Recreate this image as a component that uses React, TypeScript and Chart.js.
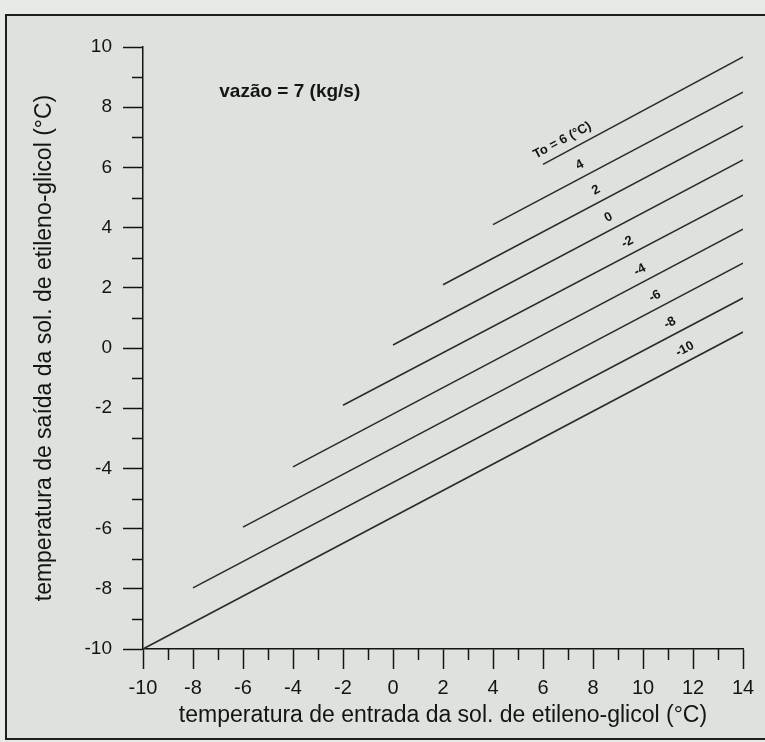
import React, { useEffect, useRef } from "react";
import { Chart, registerables } from "chart.js";

Chart.register(...registerables);

// Curve parameter To (°C); each curve starts at inlet = To
const curveTo = [6, 4, 2, 0, -2, -4, -6, -8, -10];
const startOutlet = [6.1, 4.1, 2.1, 0.1, -1.9, -3.95, -5.95, -7.97, -10];
const endInlet = 14;
const endOutlet = [9.67, 8.5, 7.38, 6.25, 5.08, 3.95, 2.82, 1.66, 0.53];
const curveLabels = ["To = 6 (°C)", "4", "2", "0", "-2", "-4", "-6", "-8", "-10"];
const labelInlet = [7.0, 7.7, 8.35, 8.85, 9.6, 10.1, 10.7, 11.3, 11.9];

const xMin = -10;
const xMax = 14;
const yMin = -10;
const yMax = 10;
const xTitle = "temperatura de entrada da sol. de etileno-glicol (°C)";
const yTitle = "temperatura de saída da sol. de etileno-glicol (°C)";
const noteText = "vazão = 7 (kg/s)";
const notePos = { x: -6.95, y: 8.5 };

const FONT = "'Liberation Sans', Arial, Helvetica, sans-serif";
const INK = "#141414";

const decorPlugin = {
  id: "decor",
  afterDatasetsDraw(chart: any) {
    const { ctx, chartArea, scales } = chart;
    const xs = scales.x;
    const ys = scales.y;
    ctx.save();
    // minor ticks
    ctx.strokeStyle = INK;
    ctx.lineWidth = 1.5;
    for (let v = xMin; v <= xMax; v += 1) {
      if (Math.abs(v % 2) === 1) {
        const px = Math.round(xs.getPixelForValue(v)) + 0.5;
        ctx.beginPath();
        ctx.moveTo(px, chartArea.bottom);
        ctx.lineTo(px, chartArea.bottom + 11);
        ctx.stroke();
      }
    }
    for (let v = yMin; v <= yMax; v += 1) {
      if (Math.abs(v % 2) === 1) {
        const py = Math.round(ys.getPixelForValue(v)) + 0.5;
        ctx.beginPath();
        ctx.moveTo(chartArea.left, py);
        ctx.lineTo(chartArea.left - 11, py);
        ctx.stroke();
      }
    }
    // curve labels
    ctx.fillStyle = INK;
    ctx.font = `bold 13px ${FONT}`;
    ctx.textAlign = "center";
    ctx.textBaseline = "middle";
    curveTo.forEach((to, i) => {
      const xv = labelInlet[i];
      const yv =
        startOutlet[i] +
        ((endOutlet[i] - startOutlet[i]) * (xv - to)) / (endInlet - to);
      const px = xs.getPixelForValue(xv);
      const py = ys.getPixelForValue(yv);
      const ang = Math.atan2(
        ys.getPixelForValue(endOutlet[i]) - ys.getPixelForValue(startOutlet[i]),
        xs.getPixelForValue(endInlet) - xs.getPixelForValue(to)
      );
      ctx.save();
      ctx.translate(px, py);
      ctx.rotate(ang);
      ctx.fillText(curveLabels[i], 0, -12);
      ctx.restore();
    });
    // note
    ctx.font = `bold 19px ${FONT}`;
    ctx.textAlign = "left";
    ctx.fillText(noteText, xs.getPixelForValue(notePos.x), ys.getPixelForValue(notePos.y));
    ctx.restore();
  },
};

export default function App() {
  const ref = useRef<HTMLCanvasElement | null>(null);

  useEffect(() => {
    if (!ref.current) return;
    const datasets = curveTo.map((to, i) => ({
      label: curveLabels[i],
      data: [
        { x: to, y: startOutlet[i] },
        { x: endInlet, y: endOutlet[i] },
      ],
      borderColor: "#2b2b2b",
      borderWidth: 1.6,
      pointRadius: 0,
      fill: false,
      tension: 0,
    }));
    const chart = new Chart(ref.current, {
      type: "line",
      data: { datasets },
      plugins: [decorPlugin],
      options: {
        animation: false,
        responsive: true,
        maintainAspectRatio: false,
        layout: { padding: { left: 0, top: 47, right: 22, bottom: 0 } },
        plugins: {
          legend: { display: false },
          tooltip: { enabled: false },
        },
        scales: {
          x: {
            type: "linear",
            min: xMin,
            max: xMax,
            afterFit: (s: any) => {
              s.height = 93;
            },
            border: { display: true, color: INK, width: 1.5 },
            grid: {
              display: true,
              drawOnChartArea: false,
              tickLength: 20,
              tickWidth: 1.5,
              tickColor: (c: any) =>
                c.tick && Math.abs(c.tick.value % 2) === 0 ? INK : "rgba(0,0,0,0)",
            },
            ticks: {
              stepSize: 1,
              autoSkip: false,
              maxRotation: 0,
              padding: 7,
              color: INK,
              font: { family: FONT, size: 20 },
              callback: (v: any) => (Math.abs(Number(v) % 2) === 0 ? String(v) : ""),
            },
            title: {
              display: true,
              text: xTitle,
              color: INK,
              font: { family: FONT, size: 23 },
              padding: { top: 0, bottom: 13 },
            },
          },
          y: {
            type: "linear",
            min: yMin,
            max: yMax,
            afterFit: (s: any) => {
              s.width = 143;
            },
            border: { display: true, color: INK, width: 1.5 },
            grid: {
              display: true,
              drawOnChartArea: false,
              tickLength: 20,
              tickWidth: 1.5,
              tickColor: (c: any) =>
                c.tick && Math.abs(c.tick.value % 2) === 0 ? INK : "rgba(0,0,0,0)",
            },
            ticks: {
              stepSize: 1,
              autoSkip: false,
              padding: 11,
              color: INK,
              font: { family: FONT, size: 19 },
              callback: (v: any) => (Math.abs(Number(v) % 2) === 0 ? String(v) : ""),
            },
            title: {
              display: true,
              text: yTitle,
              color: INK,
              font: { family: FONT, size: 23 },
              padding: { top: 31, bottom: 0 },
            },
          },
        },
      },
    } as any);
    return () => chart.destroy();
  }, []);

  return (
    <div
      style={{
        position: "fixed",
        left: 0,
        top: 0,
        width: 765,
        height: 742,
        overflow: "hidden",
        background: "#e7eae7",
      }}
    >
      <div
        style={{
          position: "absolute",
          left: 5,
          top: 14,
          width: 820,
          height: 722,
          border: "2px solid #1e1e1e",
          background: "#dee2dd",
        }}
      />
      <div style={{ position: "absolute", left: 0, top: 0, width: 765, height: 742 }}>
        <canvas ref={ref} />
      </div>
    </div>
  );
}
